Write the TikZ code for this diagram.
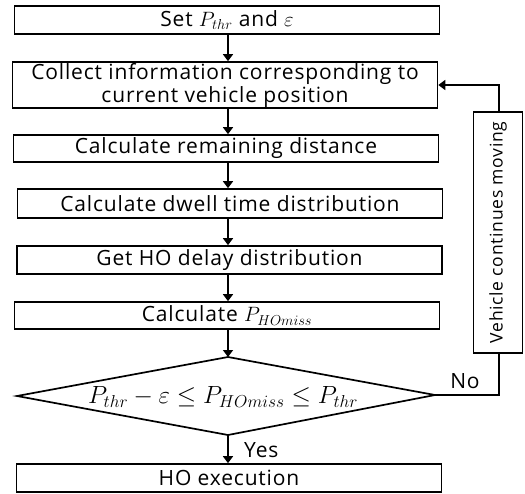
\documentclass[tikz,border=0pt]{standalone}
\usepackage{fontspec}
\setmainfont{Open Sans}[LetterSpace=4]
\usetikzlibrary{arrows.meta}
\begin{document}
\begin{tikzpicture}[x=1pt,y=-1pt,
  box/.style={draw,line width=1.7pt,minimum width=425pt,inner sep=0pt,font=\fontsize{21}{23}\selectfont,align=center},
  arr/.style={line width=2.8pt,-{Triangle[length=7pt,width=10pt]}},
  lbl/.style={font=\fontsize{21}{23}\selectfont,inner sep=1pt}]
\useasboundingbox (0,0) rectangle (525,493);
\node[box,minimum height=28pt] (b1) at (227,20) {Set $P_{thr}$ and $\varepsilon$};
\node[box,minimum height=46pt] (b2) at (225,85) {Collect information corresponding to\\current vehicle position};
\node[box,minimum height=27pt] (b3) at (226,148.5) {Calculate remaining distance};
\node[box,minimum height=29pt] (b4) at (230,203.5) {Calculate dwell time distribution};
\node[box,minimum height=28pt] (b5) at (229.5,260) {Get HO delay distribution};
\node[box,minimum height=27pt] (b6) at (227,315.5) {Calculate $P_{HOmiss}$};
\coordinate (dn) at (228,357);
\coordinate (ds) at (228,435);
\coordinate (dw) at (17,396);
\coordinate (de) at (435,395);
\draw[line width=1.7pt,line join=miter] (dn) -- (de) -- (ds) -- (dw) -- cycle;
\node[font=\fontsize{23.5}{25}\selectfont,inner sep=0pt] (d) at (223,397) {$P_{thr}-\varepsilon\le P_{HOmiss}\le P_{thr}$};
\node[box,minimum height=28pt] (b7) at (229,478) {HO execution};
\node[draw,line width=1.7pt,minimum width=241pt,minimum height=49pt,inner sep=0pt,rotate=90,font=\fontsize{17.5}{19}\selectfont] (v) at (498,232.5) {Vehicle continues moving};
\coordinate (x) at (228,0);
\coordinate (lx) at (499,0);
\draw[arr] (b1.south -| x) -- (b2.north -| x);
\draw[arr] (b2.south -| x) -- (b3.north -| x);
\draw[arr] (b3.south -| x) -- (b4.north -| x);
\draw[arr] (b4.south -| x) -- (b5.north -| x);
\draw[arr] (b5.south -| x) -- (b6.north -| x);
\draw[arr] (b6.south -| x) -- (dn);
\draw[arr] (ds) -- (b7.north -| x);
\node[lbl,anchor=west] (yes) at (243,450) {Yes};
\node[lbl] (no) at (465,381) {No};
\draw[line width=2.8pt,line join=miter] (de) -- (de -| lx) -- (v.west -| lx);
\draw[arr,line join=miter] (v.east -| lx) -- (lx |- b2.east) -- (b2.east);
\end{tikzpicture}
\end{document}
